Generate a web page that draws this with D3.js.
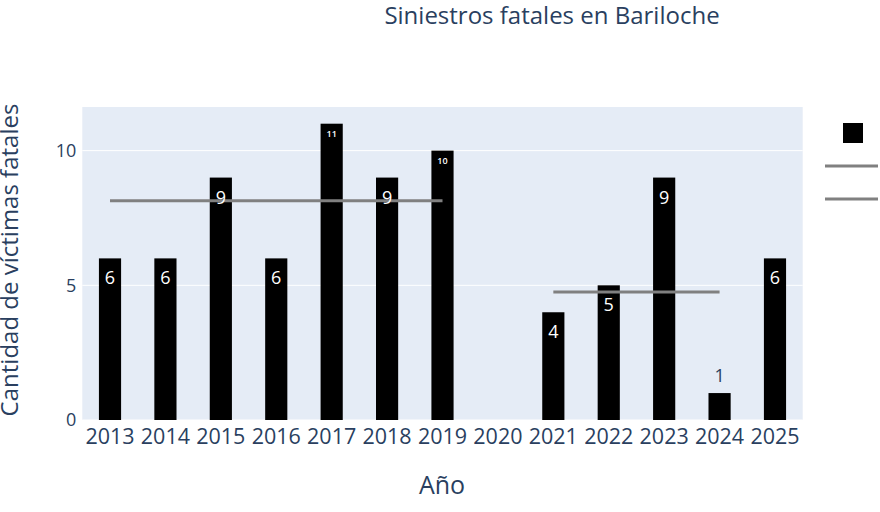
<!DOCTYPE html>
<html>
<head>
<meta charset="utf-8">
<script src="https://cdn.jsdelivr.net/npm/d3@7"></script>
<style>
  html, body { margin: 0; padding: 0; background: #fff; }
  svg { display: block; font-family: "Open Sans", sans-serif; }
</style>
</head>
<body>
<svg id="chart" width="880" height="512"></svg>
<script>
// ---- data ----
const years = ["2013","2014","2015","2016","2017","2018","2019","2020","2021","2022","2023","2024","2025"];
const victims = [6, 6, 9, 6, 11, 9, 10, null, 4, 5, 9, 1, 6];
const avgPreYears = ["2013", "2019"];
const avgPreValues = [8.14, 8.14];
const avgPostYears = ["2021", "2024"];
const avgPostValues = [4.75, 4.75];
const yTicks = [0, 5, 10];
const title = "Siniestros fatales en Bariloche";
const xTitle = "Año";
const yTitle = "Cantidad de víctimas fatales";

// ---- layout ----
const svg = d3.select("#chart");
const L = 82.3, R = 802.7, T = 107, B = 420;
const textColor = "#2a3f5f";

const x = d3.scaleBand().domain(years).range([L, R]).paddingInner(0.6).paddingOuter(0.3);
const y = d3.scaleLinear().domain([0, 11.62]).range([B, T]);

svg.append("rect").attr("x", L).attr("y", T).attr("width", R - L).attr("height", B - T).attr("fill", "#e5ecf6");

// gridlines
svg.append("g").selectAll("line").data(yTicks).join("line")
  .attr("x1", L).attr("x2", R)
  .attr("y1", d => y(d)).attr("y2", d => y(d))
  .attr("stroke", "#fff").attr("stroke-width", 1);

// y axis
const yAxis = svg.append("g").attr("transform", `translate(${L - 4},0)`)
  .call(d3.axisLeft(y).tickValues(yTicks).tickSize(0).tickPadding(2));
yAxis.select(".domain").remove();
yAxis.selectAll("text").attr("fill", textColor).style("font-size", "18px").style("font-family", "'Open Sans'");

// x axis
const xAxis = svg.append("g").attr("transform", `translate(0,${B})`)
  .call(d3.axisBottom(x).tickSize(0).tickPadding(9));
xAxis.select(".domain").remove();
xAxis.selectAll("text").attr("fill", textColor).style("font-size", "21.5px").style("font-family", "'Open Sans'");

// bars
const data = years.map((yr, i) => ({ yr, v: victims[i] })).filter(d => d.v != null);
svg.append("g").selectAll("rect").data(data).join("rect")
  .attr("x", d => x(d.yr)).attr("width", x.bandwidth())
  .attr("y", d => y(d.v)).attr("height", d => y(0) - y(d.v))
  .attr("fill", "#000");

// mean lines
const cx = yr => x(yr) + x.bandwidth() / 2;
const line = d3.line().x(d => cx(d[0])).y(d => y(d[1]));
svg.append("path").datum(avgPreYears.map((yr, i) => [yr, avgPreValues[i]]))
  .attr("d", line).attr("stroke", "#808080").attr("stroke-width", 3).attr("fill", "none");
svg.append("path").datum(avgPostYears.map((yr, i) => [yr, avgPostValues[i]]))
  .attr("d", line).attr("stroke", "#808080").attr("stroke-width", 3).attr("fill", "none");

// bar labels
const labels = svg.append("g");
data.forEach(d => {
  const h = y(0) - y(d.v);
  const s = String(d.v);
  if (h < 40) {
    labels.append("text").attr("x", cx(d.yr)).attr("y", y(d.v) - 11)
      .attr("text-anchor", "middle").attr("fill", textColor)
      .style("font-size", "18px").text(s);
  } else if (s.length > 1) {
    labels.append("text").attr("x", cx(d.yr)).attr("y", y(d.v) + 13)
      .attr("text-anchor", "middle").attr("fill", "#fff")
      .style("font-size", "9px").style("font-weight", "600").text(s);
  } else {
    labels.append("text").attr("x", cx(d.yr)).attr("y", y(d.v) + 26)
      .attr("text-anchor", "middle").attr("fill", "#fff")
      .style("font-size", "18px").text(s);
  }
});

// titles
svg.append("text").attr("x", 552).attr("y", 24).attr("text-anchor", "middle")
  .attr("fill", textColor).style("font-size", "24px").text(title);
svg.append("text").attr("x", 442).attr("y", 494).attr("text-anchor", "middle")
  .attr("fill", textColor).style("font-size", "25px").text(xTitle);
svg.append("text").attr("transform", `translate(18,260) rotate(-90)`).attr("text-anchor", "middle")
  .attr("fill", textColor).style("font-size", "24px").text(yTitle);

// legend
const lg = svg.append("g");
lg.append("rect").attr("x", 843).attr("y", 123).attr("width", 20).attr("height", 20).attr("fill", "#000");
[166, 199].forEach(yy => {
  lg.append("line").attr("x1", 825).attr("x2", 878).attr("y1", yy).attr("y2", yy)
    .attr("stroke", "#808080").attr("stroke-width", 3);
});
</script>
</body>
</html>
